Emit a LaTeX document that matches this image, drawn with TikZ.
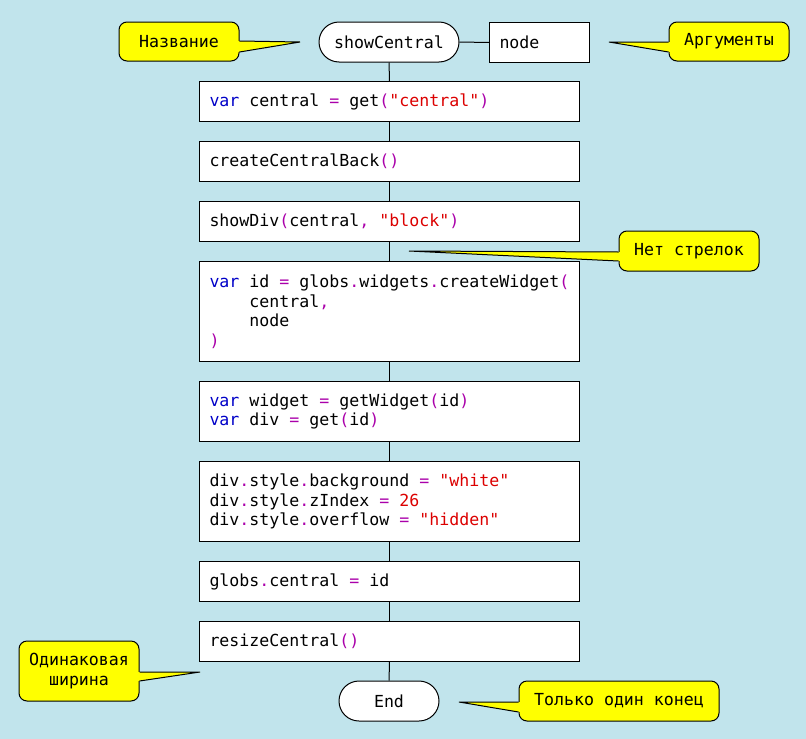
\documentclass[tikz,border=0pt]{standalone}
\usepackage{fontspec}
\setmonofont{DejaVu Sans Mono}[WordSpace={1,0,0}]
\usetikzlibrary{calc}
\definecolor{bgc}{RGB}{193,228,236}
\definecolor{kwc}{RGB}{0,0,200}
\definecolor{puc}{RGB}{170,0,170}
\definecolor{stc}{RGB}{220,0,0}
\definecolor{callc}{RGB}{255,255,0}
\newcommand\ckw[1]{\textcolor{kwc}{#1}}
\newcommand\cpu[1]{\textcolor{puc}{#1}}
\newcommand\cstr[1]{\textcolor{stc}{#1}}
\newcommand\ind{\phantom{0000}}
\newcommand\codespace{\spaceskip=\fontcharwd\font`0\relax\xspaceskip=\spaceskip}
\begin{document}
\begin{tikzpicture}[x=1pt,y=-1pt,line width=1pt,
  font=\ttfamily\fontsize{16.6}{19.5}\selectfont,
  codebox/.style={draw, fill=white, anchor=north west, text width=360pt,
    inner xsep=10pt, inner ysep=0pt, align=flush left,
    execute at begin node=\codespace},
  stadium/.style={draw, fill=white, rounded corners=20pt, minimum height=40pt,
    inner sep=0pt},
  callout/.style={draw, fill=callc, rounded corners=8pt, inner sep=0pt, align=center},
  link/.style={draw, line width=1pt},
  tailedge/.style={draw, line width=1pt, line join=miter}]
\fill[bgc] (0,0) rectangle (806,739);
\useasboundingbox (0,0) rectangle (806,739);

% start and arguments
\node[stadium, minimum width=140pt] (start) at (389,42) {showCentral};
\node[draw, fill=white, anchor=north west, minimum width=100pt, minimum height=40pt,
  inner sep=0pt, text width=80pt, inner xsep=10pt, align=flush left] (args) at (489,22) {node};

% action boxes
\node[codebox, minimum height=40pt] (b1) at (199,81)
  {\ckw{var} central \cpu{=} get\cpu{(}\cstr{"central"}\cpu{)}};
\node[codebox, minimum height=40pt] (b2) at (199,141)
  {createCentralBack\cpu{()}};
\node[codebox, minimum height=40pt] (b3) at (199,201)
  {showDiv\cpu{(}central\cpu{,} \cstr{"block"}\cpu{)}};
\node[codebox, minimum height=100pt] (b4) at (199,261)
  {\ckw{var} id \cpu{=} globs\cpu{.}widgets\cpu{.}createWidget\cpu{(}\\
   \ind central\cpu{,}\\
   \ind node\\
   \cpu{)}};
\node[codebox, minimum height=60pt] (b5) at (199,381)
  {\ckw{var} widget \cpu{=} getWidget\cpu{(}id\cpu{)}\\
   \ckw{var} div \cpu{=} get\cpu{(}id\cpu{)}};
\node[codebox, minimum height=80pt] (b6) at (199,461)
  {div\cpu{.}style\cpu{.}background \cpu{=} \cstr{"white"}\\
   div\cpu{.}style\cpu{.}zIndex \cpu{=} \cstr{26}\\
   div\cpu{.}style\cpu{.}overflow \cpu{=} \cstr{"hidden"}};
\node[codebox, minimum height=40pt] (b7) at (199,561)
  {globs\cpu{.}central \cpu{=} id};
\node[codebox, minimum height=40pt] (b8) at (199,621)
  {resizeCentral\cpu{()}};
\node[stadium, minimum width=100pt] (end) at (389,701) {End};

% connectors
\draw[link] (start.east) -- (args.west);
\draw[link] (start) -- (b1);
\draw[link] (b1) -- (b2);
\draw[link] (b2) -- (b3);
\draw[link] (b3) -- (b4);
\draw[link] (b4) -- (b5);
\draw[link] (b5) -- (b6);
\draw[link] (b6) -- (b7);
\draw[link] (b7) -- (b8);
\draw[link] (b8) -- (end);

% callouts
\node[callout, minimum width=120pt, minimum height=39pt] (c1) at (179,41.5) {Название};
\node[callout, minimum width=120pt, minimum height=39pt] (c2) at (729,41.5) {Аргументы};
\node[callout, minimum width=140pt, minimum height=40pt] (c3) at (689,251) {Нет стрелок};
\node[callout, minimum width=120pt, minimum height=60pt] (c4) at (79,671) {Одинаковая\\ширина};
\node[callout, minimum width=200pt, minimum height=40pt] (c5) at (619,701) {Только один конец};

\coordinate (t1) at (300,42);
\coordinate (t2) at (609,42);
\coordinate (t3) at (409,251);
\coordinate (t4) at (200,672);
\coordinate (t5) at (459,702);

% c1
\fill[callc] (t1) -- ($(c1.east)+(-1.5,-0.5)$) -- ($(c1.east)+(-1.5,10.5)$) -- cycle;
\draw[tailedge] ($(c1.east)+(0,-0.5)$) -- (t1) -- ($(c1.east)+(0,10.5)$);
% c4
\fill[callc] (t4) -- ($(c4.east)+(-1.5,1)$) -- ($(c4.east)+(-1.5,10)$) -- cycle;
\draw[tailedge] ($(c4.east)+(0,1)$) -- (t4) -- ($(c4.east)+(0,10)$);
% c2
\fill[callc] (t2) -- ($(c2.west)+(1.5,0.5)$) -- ($(c2.west)+(1.5,10.5)$) -- cycle;
\draw[tailedge] ($(c2.west)+(0,0.5)$) -- (t2) -- ($(c2.west)+(0,10.5)$);
% c3
\fill[callc] (t3) -- ($(c3.west)+(1.5,1)$) -- ($(c3.west)+(1.5,10)$) -- cycle;
\draw[tailedge] ($(c3.west)+(0,1)$) -- (t3) -- ($(c3.west)+(0,10)$);
% c5
\fill[callc] (t5) -- ($(c5.west)+(1.5,1)$) -- ($(c5.west)+(1.5,11)$) -- cycle;
\draw[tailedge] ($(c5.west)+(0,1)$) -- (t5) -- ($(c5.west)+(0,11)$);
\end{tikzpicture}
\end{document}
